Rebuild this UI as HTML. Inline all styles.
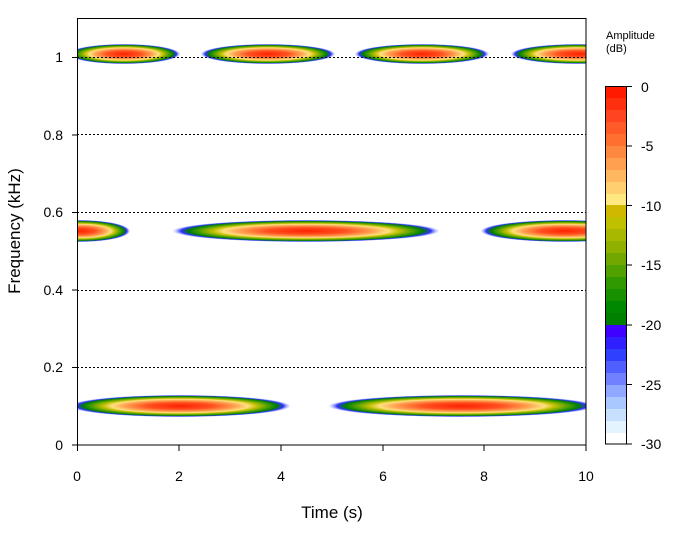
<!DOCTYPE html>
<html><head><style>body{margin:0;background:#fff}</style></head><body>
<svg width="684" height="541" viewBox="0 0 684 541" xmlns="http://www.w3.org/2000/svg" font-family="Liberation Sans, Arial, sans-serif">
<defs>
<radialGradient id="g" cx="0.5" cy="0.5" r="0.5">
<stop offset="0" stop-color="#ff2000"/>
<stop offset="0.3" stop-color="#ff5020"/>
<stop offset="0.5" stop-color="#ffa050"/>
<stop offset="0.62" stop-color="#ffe080"/>
<stop offset="0.7" stop-color="#c0c000"/>
<stop offset="0.8" stop-color="#50a000"/>
<stop offset="0.88" stop-color="#008000"/>
<stop offset="0.94" stop-color="#3030ff"/>
<stop offset="1" stop-color="#c0d8ff" stop-opacity="0.3"/>
</radialGradient>
<clipPath id="c"><rect x="77" y="18" width="509" height="427"/></clipPath>
</defs>
<g clip-path="url(#c)" fill="url(#g)">
<ellipse cx="124" cy="54" rx="56" ry="10"/>
<ellipse cx="268" cy="54" rx="67" ry="10"/>
<ellipse cx="422" cy="54" rx="67" ry="10"/>
<ellipse cx="578" cy="54" rx="67" ry="10"/>
<ellipse cx="80" cy="231" rx="50" ry="11"/>
<ellipse cx="306" cy="231" rx="133" ry="11"/>
<ellipse cx="565" cy="231" rx="84" ry="11"/>
<ellipse cx="180" cy="406" rx="110" ry="11"/>
<ellipse cx="462" cy="406" rx="133" ry="11"/>
</g>
<g stroke="#000" stroke-dasharray="2,2" stroke-width="1">
<line x1="77" x2="586" y1="57.5" y2="57.5"/>
<line x1="77" x2="586" y1="134.5" y2="134.5"/>
<line x1="77" x2="586" y1="212.5" y2="212.5"/>
<line x1="77" x2="586" y1="290.5" y2="290.5"/>
<line x1="77" x2="586" y1="367.5" y2="367.5"/>
</g>
<rect x="77.5" y="18.5" width="508.5" height="426.5" fill="none" stroke="#000"/>
<g stroke="#000">
<line x1="72" x2="77" y1="445" y2="445"/><line x1="72" x2="77" y1="367.5" y2="367.5"/><line x1="72" x2="77" y1="290" y2="290"/><line x1="72" x2="77" y1="212.5" y2="212.5"/><line x1="72" x2="77" y1="135" y2="135"/><line x1="72" x2="77" y1="57.5" y2="57.5"/>
<line x1="77.5" x2="77.5" y1="445" y2="451"/><line x1="179" x2="179" y1="445" y2="451"/><line x1="281" x2="281" y1="445" y2="451"/><line x1="383" x2="383" y1="445" y2="451"/><line x1="484" x2="484" y1="445" y2="451"/><line x1="586" x2="586" y1="445" y2="451"/>
</g>
<g font-size="14" text-anchor="end">
<text x="63" y="450">0</text><text x="63" y="372">0.2</text><text x="63" y="295">0.4</text><text x="63" y="217">0.6</text><text x="63" y="140">0.8</text><text x="63" y="62">1</text>
</g>
<g font-size="14" text-anchor="middle">
<text x="77" y="481">0</text><text x="179" y="481">2</text><text x="281" y="481">4</text><text x="383" y="481">6</text><text x="484" y="481">8</text><text x="586" y="481">10</text>
</g>
<text x="332" y="518" font-size="17" text-anchor="middle">Time (s)</text>
<text transform="translate(20,231) rotate(-90)" font-size="17" text-anchor="middle">Frequency (kHz)</text>
<text x="606" y="39" font-size="11">Amplitude</text>
<text x="606" y="52" font-size="11">(dB)</text>
<g>
<rect x="605" y="86" width="21" height="12" fill="#ff1a00"/>
<rect x="605" y="98" width="21" height="12" fill="#ff3010"/>
<rect x="605" y="110" width="21" height="12" fill="#ff4520"/>
<rect x="605" y="122" width="21" height="12" fill="#ff5a28"/>
<rect x="605" y="134" width="21" height="12" fill="#ff7030"/>
<rect x="605" y="146" width="21" height="12" fill="#ff8840"/>
<rect x="605" y="158" width="21" height="12" fill="#ffa050"/>
<rect x="605" y="170" width="21" height="12" fill="#ffb860"/>
<rect x="605" y="182" width="21" height="12" fill="#ffd070"/>
<rect x="605" y="194" width="21" height="11" fill="#ffe880"/>
<rect x="605" y="205" width="21" height="12" fill="#d0b800"/>
<rect x="605" y="217" width="21" height="12" fill="#c0c000"/>
<rect x="605" y="229" width="21" height="12" fill="#a8b800"/>
<rect x="605" y="241" width="21" height="12" fill="#90b000"/>
<rect x="605" y="253" width="21" height="12" fill="#70a800"/>
<rect x="605" y="265" width="21" height="12" fill="#50a000"/>
<rect x="605" y="277" width="21" height="12" fill="#309800"/>
<rect x="605" y="289" width="21" height="12" fill="#189000"/>
<rect x="605" y="301" width="21" height="12" fill="#008800"/>
<rect x="605" y="313" width="21" height="12" fill="#008000"/>
<rect x="605" y="325" width="21" height="12" fill="#4000ff"/>
<rect x="605" y="337" width="21" height="12" fill="#3020ff"/>
<rect x="605" y="349" width="21" height="12" fill="#3040ff"/>
<rect x="605" y="361" width="21" height="12" fill="#5060ff"/>
<rect x="605" y="373" width="21" height="12" fill="#7080ff"/>
<rect x="605" y="385" width="21" height="12" fill="#90a8ff"/>
<rect x="605" y="397" width="21" height="12" fill="#a8c8ff"/>
<rect x="605" y="409" width="21" height="12" fill="#c8e0ff"/>
<rect x="605" y="421" width="21" height="12" fill="#e4f4ff"/>
<rect x="605" y="433" width="21" height="11" fill="#ffffff"/>
<rect x="605.5" y="86.5" width="21" height="357.5" fill="none" stroke="#000"/>
<g stroke="#000">
<line x1="626" x2="632" y1="86.5" y2="86.5"/><line x1="626" x2="632" y1="146" y2="146"/><line x1="626" x2="632" y1="205.5" y2="205.5"/><line x1="626" x2="632" y1="265" y2="265"/><line x1="626" x2="632" y1="325" y2="325"/><line x1="626" x2="632" y1="384.5" y2="384.5"/><line x1="626" x2="632" y1="444" y2="444"/>
</g>
<g font-size="14">
<text x="641" y="92">0</text><text x="641" y="151">-5</text><text x="641" y="211">-10</text><text x="641" y="270">-15</text><text x="641" y="330">-20</text><text x="641" y="390">-25</text><text x="641" y="449">-30</text>
</g>
</g>
</svg>
</body></html>
